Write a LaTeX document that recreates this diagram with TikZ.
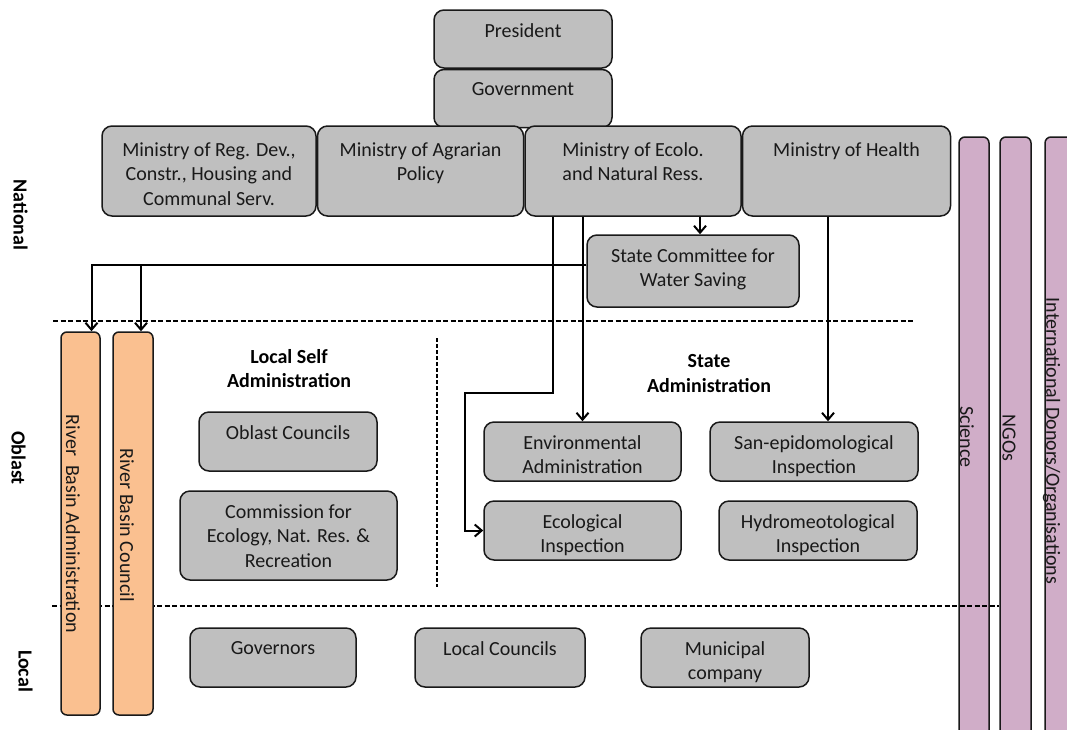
\documentclass[tikz,border=0pt]{standalone}
\usepackage{fontspec}
\setmainfont{Carlito}
\usetikzlibrary{arrows.meta}
\usetikzlibrary{positioning}

\definecolor{boxgray}{RGB}{191,191,191}
\definecolor{basinorange}{RGB}{250,192,144}
\definecolor{partnerpurple}{RGB}{208,173,200}

\begin{document}
\begin{tikzpicture}
    [x=1pt,y=-1pt,
    font=\fontsize{20}{24.4}\selectfont,
    box/.style={rectangle,rounded corners=10pt,draw=black!90,fill=boxgray,
      line width=1.5pt,inner sep=0pt},
    txt/.style={anchor=north,yshift=-14pt,align=center,text=black!90,inner sep=0pt},
    bar/.style={rectangle,rounded corners=6pt,draw=black!90,line width=1.5pt,
      inner sep=0pt},
    vtext/.style={rotate=-90,inner sep=0pt,text=black!90},
    level/.style={rotate=-90,inner sep=0pt,font=\fontsize{20}{24.4}\selectfont\bfseries},
    heading/.style={align=center,inner sep=0pt,font=\fontsize{20}{24.4}\selectfont\bfseries},
    arr/.style={-{Straight Barb[length=7pt,width=12pt]},line width=2pt},
    sep/.style={dash pattern=on 5pt off 2.5pt,line width=1.5pt},
    vsep/.style={dash pattern=on 4pt off 2pt,line width=1.2pt}]

    \useasboundingbox (0,0) rectangle (1067,729);
    \clip (0,0) rectangle (1067,729);

    \node[bar,fill=partnerpurple,minimum width=30pt,minimum height=623pt]   (science) at (974,448.5)  {};

    \node[bar,fill=partnerpurple,minimum width=31pt,minimum height=623pt]   (ngos)    at (1015.5,448.5) {};

    \node[bar,fill=partnerpurple,minimum width=35pt,minimum height=623pt]   (intl)    at (1062.5,448.5) {};

    \draw[sep] (53,321) -- (913,321);
    \draw[sep] (52,606) -- (999,606);
    \draw[vsep] (437,338) -- (437,587);

    \node[bar,fill=basinorange,minimum width=39pt,minimum height=383pt]     (rba)     at (80.5,523.5) {};

    \node[bar,fill=basinorange,minimum width=40pt,minimum height=383pt]     (rbc)     at (133,523.5)  {};

    \node[vtext] (rbatext)     at (73,524)     {River\ \ Basin Administration};
    \node[vtext] (rbctext)     at (127,525)    {River Basin Council};
    \node[vtext] (sciencetext) at (967,437)    {Science};
    \node[vtext] (ngostext)    at (1009,438)   {NGOs};
    \node[vtext] (intltext)    at (1051.5,441) {International Donors/Organisations};

    \node[level] (national) at (20.5,215) {National};
    \node[level] (oblast)   at (18.5,458) {Oblast};
    \node[level] (local)    at (25.5,671) {Local};

    \node[heading] (selfadmin)  at (289,368.5) {Local Self\\Administration};
    \node[heading] (stateadmin) at (709,373.5) {State\\Administration};

    \node[box,minimum width=178pt,minimum height=58pt,
      label={[txt]above:President}]                       (pres)       at (523,39)       {};

    \node[box,minimum width=178pt,minimum height=58pt,
      label={[txt]above:Government}]                      (govt)       [below=0pt of pres] {};

    \node[box,minimum width=214pt,minimum height=90pt,
      label={[txt,yshift=-3pt]above:Ministry of Reg. Dev.,\\Constr., Housing and\\Communal Serv.}]
                                                          (regdev)     at (209,171)      {};

    \node[box,minimum width=206pt,minimum height=90pt,
      label={[txt,yshift=-3pt]above:Ministry of Agrarian\\Policy}]
                                                          (agrar)      [right=0pt of regdev] {};

    \node[box,minimum width=216pt,minimum height=90pt,
      label={[txt,yshift=-3pt]above:Ministry of Ecolo.\\and Natural Ress.}]
                                                          (ecolo)      [right=0pt of agrar]  {};

    \node[box,minimum width=208pt,minimum height=90pt,
      label={[txt,yshift=-3pt]above:Ministry of Health}]  (health)     [right=0pt of ecolo]  {};

    \node[box,minimum width=212pt,minimum height=72pt,
      label={[txt]above:State Committee for\\Water Saving}]
                                                          (committee)  at (693,271)      {};

    \node[box,minimum width=178pt,minimum height=59pt,
      label={[txt]above:Oblast Councils}]                 (oblcouncil) at (288,441.5)    {};

    \node[box,minimum width=217pt,minimum height=89pt,
      label={[txt]above:Commission for\\Ecology, Nat. Res. \&\\Recreation}]
                                                          (commission) at (288.5,535.5)  {};

    \node[box,minimum width=197pt,minimum height=59pt,
      label={[txt]above:Environmental\\Administration}]   (env)        at (582.5,451.5)  {};

    \node[box,minimum width=208pt,minimum height=59pt,
      label={[txt]above:San-epidomological\\Inspection}]  (sanep)      at (814,451.5)    {};

    \node[box,minimum width=197pt,minimum height=59pt,
      label={[txt]above:Ecological\\Inspection}]          (ecol)       at (582.5,530.5)  {};

    \node[box,minimum width=198pt,minimum height=59pt,
      label={[txt]above:Hydromeotological\\Inspection}]   (hydro)      at (818,530.5)    {};

    \node[box,minimum width=166pt,minimum height=59pt,
      label={[txt]above:Governors}]                       (governors)  at (273,657.5)    {};

    \node[box,minimum width=170pt,minimum height=59pt,
      label={[txt]above:Local Councils}]                  (lcouncils)  at (500,657.5)    {};

    \node[box,minimum width=168pt,minimum height=59pt,
      label={[txt]above:Municipal\\company}]              (municipal)  at (725,657.5)    {};

    \draw[arr] ([xshift=7pt]committee.north |- ecolo.south) -- ([xshift=7pt]committee.north);
    \draw[arr] ([yshift=6pt]committee.west) -| ([xshift=11pt]rba.north);
    \draw[arr] ([yshift=6pt]committee.west) -| ([xshift=8pt]rbc.north);
    \draw[arr] (ecolo.south -| env.north) -- (env.north);
    \draw[arr] ([xshift=-80pt]ecolo.south) -- ++(0,176) -- ++(-88,0) |- (ecol.west);
    \draw[arr] ([xshift=14pt]sanep.north |- health.south) -- ([xshift=14pt]sanep.north);

  \end{tikzpicture}
\end{document}
